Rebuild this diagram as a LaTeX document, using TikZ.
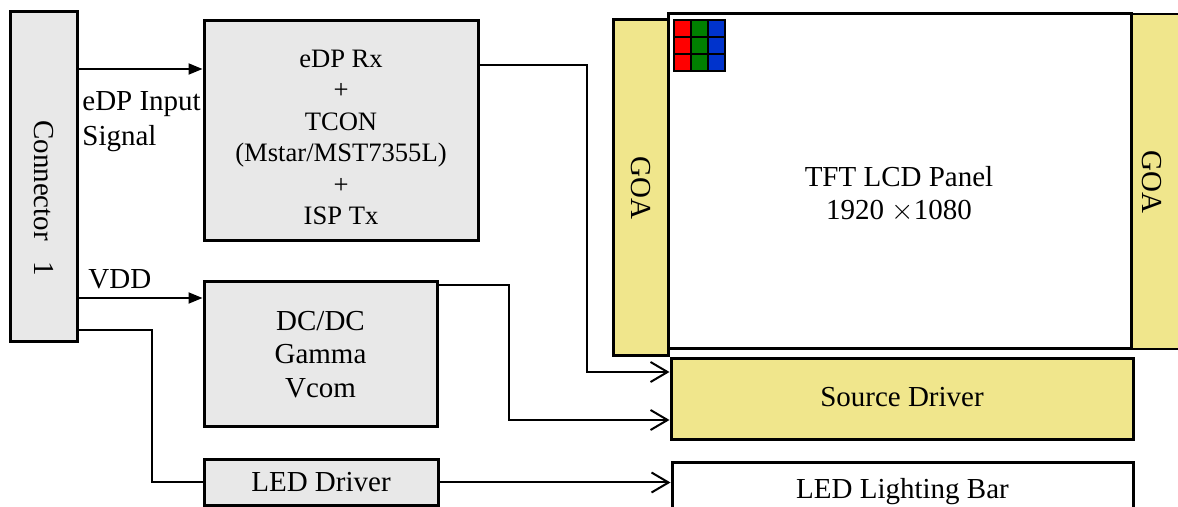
\documentclass[tikz,border=0pt]{standalone}
\usepackage{fontspec}
\setmainfont{Liberation Serif}
\usetikzlibrary{arrows.meta}

\definecolor{boxgray}{RGB}{232,232,232}
\definecolor{goayellow}{RGB}{240,230,140}
\definecolor{pixred}{RGB}{255,0,0}
\definecolor{pixgreen}{RGB}{0,128,0}
\definecolor{pixblue}{RGB}{0,51,204}

\tikzset{
	block/.style={draw, line width=1.5pt, fill=boxgray, inner sep=0pt, align=center,
		font=\fontsize{14.5}{16.75}\selectfont},
	goa/.style={draw, line width=1.5pt, fill=goayellow, inner sep=0pt,
		font=\fontsize{14.5}{16.75}\selectfont},
	txt/.style={inner sep=0pt, align=center, font=\fontsize{14.5}{16.75}\selectfont},
	sig/.style={line width=1pt},
	fillarrow/.style={sig, -{Triangle[length=7pt, width=5.5pt]}},
	openarrow/.style={sig, -{Straight Barb[length=8.5pt, width=10pt]}},
}

\begin{document}
\begin{tikzpicture}[x=0.5pt, y=-0.5pt]

	\clip (0,0) rectangle (1178,507);

% left column: connector
	\node[block, minimum width=33.5pt, minimum height=165pt] (conn) at (43.5,177) {};
	\node[txt, rotate=-90] (conntext) at (44,198) {Connector\hspace{0.7em}1};

% middle column: TCON, DC/DC, LED driver
	\node[block, minimum width=137pt, minimum height=110pt] (tcon) at (341,131) {};
	\node[txt, font=\fontsize{13.3}{15.75}\selectfont] (tcontext) at (341,137.5)
		{eDP Rx\\+\\TCON\\(Mstar/MST7355L)\\+\\ISP Tx};
	\node[block, minimum width=116.5pt, minimum height=72.5pt] (dcdc) at (320.5,354.5)
		{DC/DC\\Gamma\\Vcom};
	\node[block, minimum width=117pt, minimum height=22.5pt] (leddrv) at (321,482.5) {LED Driver};

% right column: panel with GOA, source driver, LED bar
	\node[goa, minimum width=27.5pt, minimum height=168pt] (goaleft) at (640.5,188) {};
	\node[txt, rotate=-90] (goalefttext) at (640.5,188) {GOA};
	\node[goa, line width=1pt, minimum width=32pt, minimum height=167.5pt] (goaright) at (1163,181.5) {};
	\node[txt, rotate=-90] (goarighttext) at (1152,182) {GOA};
	\node[goa, fill=white, minimum width=231.5pt, minimum height=167.5pt] (panel) at (899.5,181.5) {};
	\node[txt] (paneltext) at (899,194) {TFT LCD Panel\\1920 $\times$1080};

	% pixel grid
	\foreach \c/\col in {0/pixred, 1/pixgreen, 2/pixblue}
		\foreach \r in {0,1,2}
			\draw[fill=\col, line width=0.6pt] (674+17*\c, 20+17*\r) rectangle ++(17,17);
	\draw[line width=1.2pt] (674,20) rectangle (725,71);

	\node[goa, minimum width=231pt, minimum height=40.5pt] (source) at (902,399.5)
		{\raisebox{2.5pt}{Source Driver}};
	\node[goa, fill=white, minimum width=230.5pt, minimum height=27pt, text depth=0pt] (ledbar) at (902.5,490)
		{\raisebox{2pt}{LED Lighting Bar}};

% signals
	\draw[fillarrow] (conn.east |- 0,69) -- (tcon.west |- 0,69);
	\node[txt, anchor=west, align=left, font=\fontsize{14.5}{17.5}\selectfont] (edplabel) at (82,122)
		{eDP Input\\Signal};
	\draw[fillarrow] (conn.east |- 0,298) -- (dcdc.west |- 0,298);
	\node[txt, anchor=west] (vddlabel) at (88,279) {VDD};
	\draw[sig] (conn.east |- 0,330) -| (152,482.5) -- (leddrv.west);

	\draw[openarrow] (tcon.east |- 0,65) -| (587,372) -- (source.west |- 0,372);
	\draw[openarrow] (dcdc.east |- 0,285) -| (509,420) -- (source.west |- 0,420);
	\draw[openarrow] (leddrv.east) -- (ledbar.west |- leddrv.east);

\end{tikzpicture}
\end{document}
